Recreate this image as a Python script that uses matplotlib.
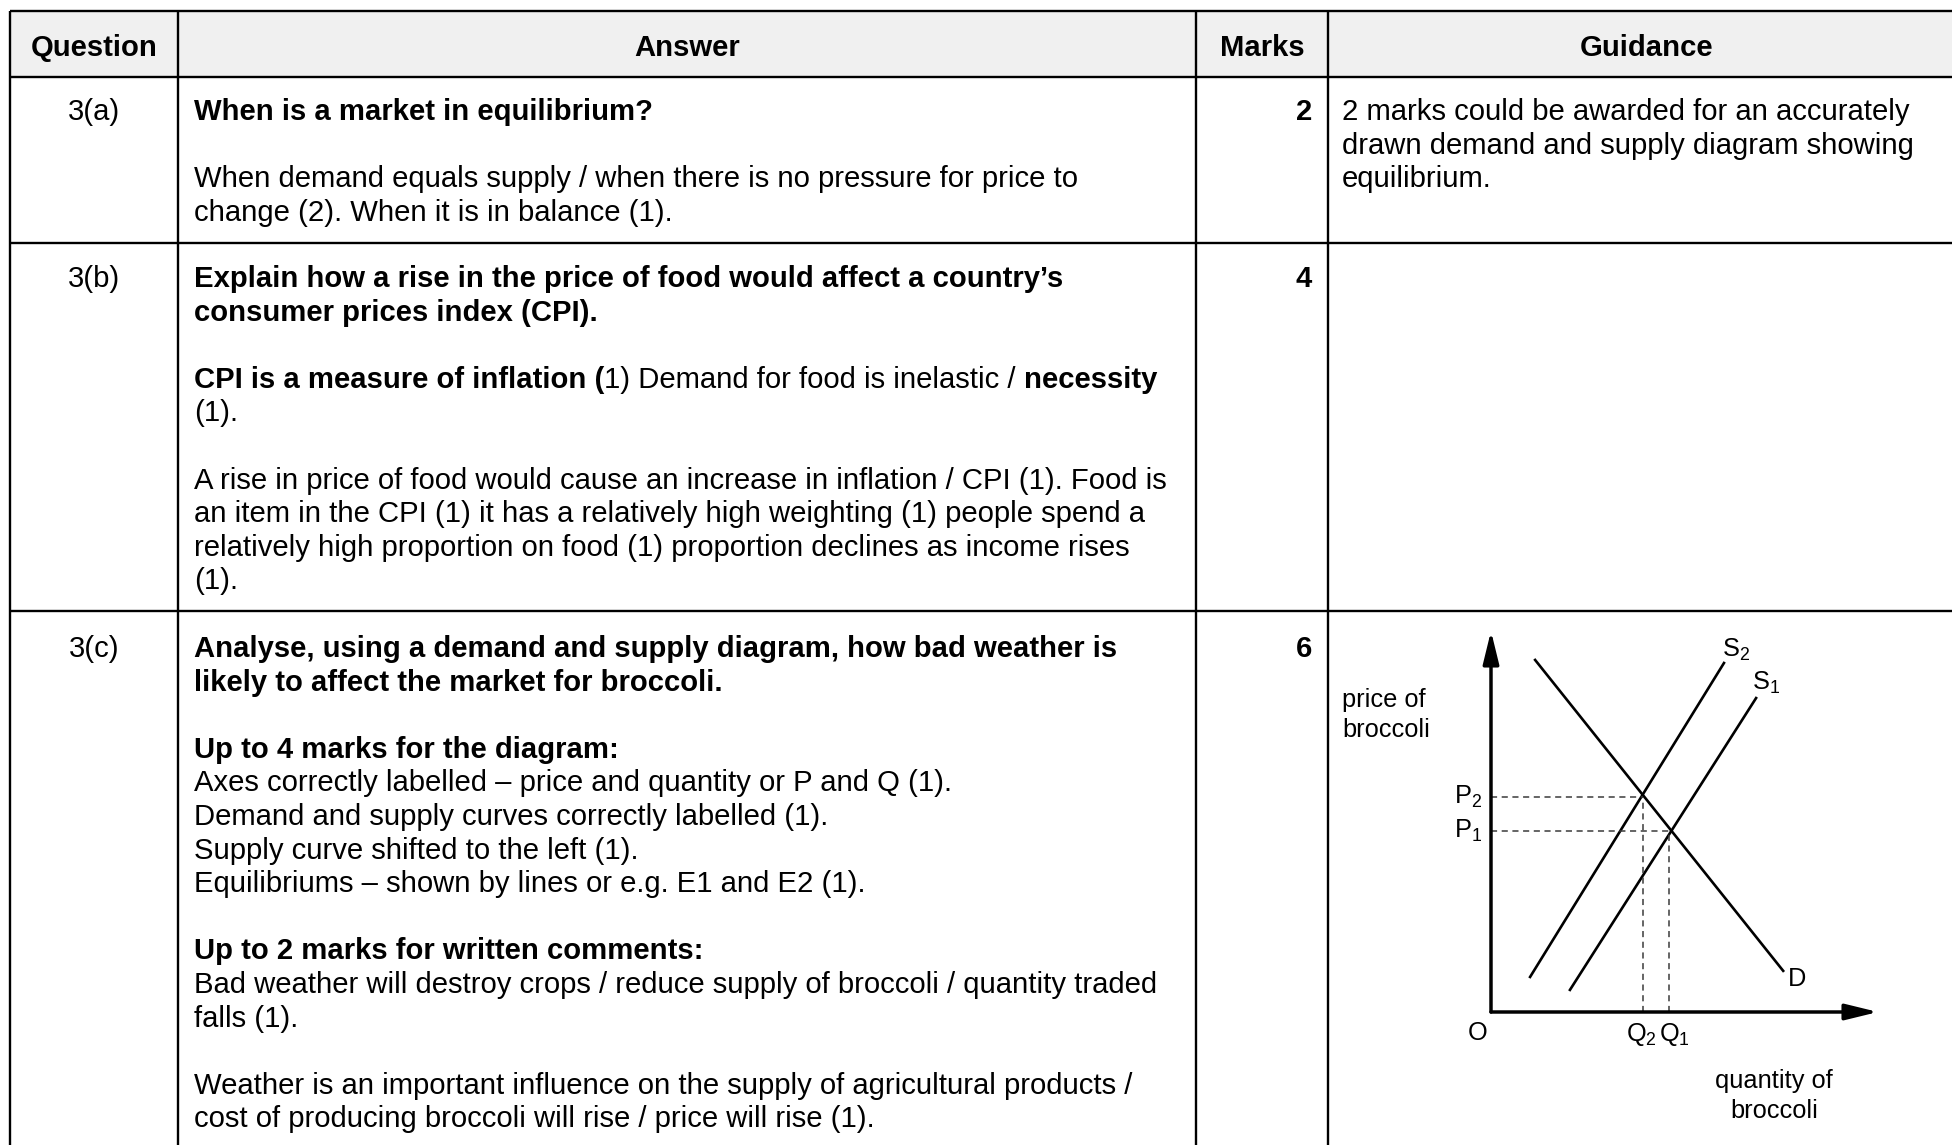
import matplotlib.pyplot as plt
import matplotlib as mpl

mpl.rcParams['font.family'] = ['Liberation Sans', 'DejaVu Sans']
mpl.rcParams['mathtext.fontset'] = 'custom'
mpl.rcParams['mathtext.rm'] = 'Liberation Sans'

headers = ["Question", "Answer", "Marks", "Guidance"]
questions = ["3(a)", "3(b)", "3(c)"]
marks = ["2", "4", "6"]

# each line is a list of (text, bold) pieces, None = blank line
answers = [
    [
        [("When is a market in equilibrium?", True)],
        None,
        [("When demand equals supply / when there is no pressure for price to", False)],
        [("change (2). When it is in balance (1).", False)],
    ],
    [
        [("Explain how a rise in the price of food would affect a country\u2019s", True)],
        [("consumer prices index (CPI).", True)],
        None,
        [("CPI is a measure of inflation (", True), ("1) Demand for food is inelastic / ", False),
         ("necessity", True)],
        [("(1).", False)],
        None,
        [("A rise in price of food would cause an increase in inflation / CPI (1). Food is", False)],
        [("an item in the CPI (1) it has a relatively high weighting (1) people spend a", False)],
        [("relatively high proportion on food (1) proportion declines as income rises", False)],
        [("(1).", False)],
    ],
    [
        [("Analyse, using a demand and supply diagram, how bad weather is", True)],
        [("likely to affect the market for broccoli.", True)],
        None,
        [("Up to 4 marks for the diagram:", True)],
        [("Axes correctly labelled \u2013 price and quantity or P and Q (1).", False)],
        [("Demand and supply curves correctly labelled (1).", False)],
        [("Supply curve shifted to the left (1).", False)],
        [("Equilibriums \u2013 shown by lines or e.g. E1 and E2 (1).", False)],
        None,
        [("Up to 2 marks for written comments:", True)],
        [("Bad weather will destroy crops / reduce supply of broccoli / quantity traded", False)],
        [("falls (1).", False)],
        None,
        [("Weather is an important influence on the supply of agricultural products /", False)],
        [("cost of producing broccoli will rise / price will rise (1).", False)],
    ],
]
guidance = [
    ["2 marks could be awarded for an accurately",
     "drawn demand and supply diagram showing",
     "equilibrium."],
    [],
    [],
]

# broccoli diagram (quantity, price)
demand_q = [1.14, 7.55]
demand_p = [9.24, 1.08]
supply1_q = [2.04, 6.85]
supply1_p = [0.58, 8.24]
supply2_q = [1.01, 6.02]
supply2_p = [0.92, 9.16]
eq_q = [4.60, 3.93]   # Q1, Q2
eq_p = [4.75, 5.64]   # P1, P2

W, H = 1952, 1145
col_x = [10, 178, 1196, 1328]
row_y = [11, 77, 243, 611]
first_base = [120, 287, 657]
line_h = 33.6
fs = 21.1

fig = plt.figure(figsize=(W / 100, H / 100), dpi=100)
ax = fig.add_axes([0, 0, 1, 1])
ax.set_xlim(0, W)
ax.set_ylim(H, 0)
ax.axis('off')
renderer = fig.canvas.get_renderer()

ax.fill_between([col_x[0], W], row_y[0], row_y[1], color='#f0f0f0', lw=0)
for y in row_y:
    ax.plot([col_x[0], W], [y, y], color='black', lw=1.7, solid_capstyle='butt')
for x in col_x:
    ax.plot([x, x], [row_y[0], H], color='black', lw=1.7, solid_capstyle='butt')

head_x = [(col_x[0] + col_x[1]) / 2, (col_x[1] + col_x[2]) / 2,
          (col_x[2] + col_x[3]) / 2, (col_x[3] + 1966) / 2]
for hx, h in zip(head_x, headers):
    ax.text(hx, 55.5, h, fontsize=fs, fontweight='bold', ha='center', va='baseline')


def width_of(txt, bold):
    t = ax.text(0, 0, txt, fontsize=fs, fontweight='bold' if bold else 'normal')
    w = t.get_window_extent(renderer).width
    t.remove()
    return w


sp_w = {b: width_of("x x", b) - width_of("xx", b) for b in (True, False)}


def draw_line(x, y, pieces):
    for txt, bold in pieces:
        core = txt.rstrip(" ")
        t = ax.text(x, y, core, fontsize=fs, fontweight='bold' if bold else 'normal',
                    ha='left', va='baseline')
        x += t.get_window_extent(renderer).width
        x += sp_w[bold] * (len(txt) - len(core))


for i in range(3):
    y0 = first_base[i]
    ax.text(head_x[0], y0, questions[i], fontsize=fs, ha='center', va='baseline')
    ax.text(1312, y0, marks[i], fontsize=fs, fontweight='bold', ha='right', va='baseline')
    for k, line in enumerate(answers[i]):
        if line:
            draw_line(194, y0 + k * line_h, line)
    for k, g in enumerate(guidance[i]):
        ax.text(1342, y0 + k * line_h, g, fontsize=fs, ha='left', va='baseline')

# diagram
dx0, dx1, dy0, dy1 = 1491, 1878, 1012, 631
dax = fig.add_axes([dx0 / W, (H - dy0) / H, (dx1 - dx0) / W, (dy0 - dy1) / H])
dax.set_xlim(0, 10)
dax.set_ylim(0, 10)
dax.axis('off')

arrow = dict(arrowstyle='-|>,head_length=0.9,head_width=0.22', lw=2.5, color='black',
             shrinkA=0, shrinkB=0, mutation_scale=22)
dax.annotate('', xy=(0, 10), xytext=(0, 0), arrowprops=arrow, annotation_clip=False)
dax.annotate('', xy=(10, 0), xytext=(0, 0), arrowprops=arrow, annotation_clip=False)

dax.plot(demand_q, demand_p, color='black', lw=1.9, clip_on=False)
dax.plot(supply1_q, supply1_p, color='black', lw=1.9, clip_on=False)
dax.plot(supply2_q, supply2_p, color='black', lw=1.9, clip_on=False)
for q, p in zip(eq_q, eq_p):
    dax.plot([0, q], [p, p], color='#3a3a3a', lw=1.1, ls=(0, (4, 3)))
    dax.plot([q, q], [0, p], color='#3a3a3a', lw=1.1, ls=(0, (4, 3)))

ls = 18.3
dax.text(-3.85, 7.8, "price of\nbroccoli", fontsize=ls, ha='left', va='center',
         linespacing=1.3, clip_on=False)
dax.text(7.31, -2.2, "quantity of\nbroccoli", fontsize=ls, ha='center', va='center',
         linespacing=1.3, clip_on=False)
dax.text(-0.35, -0.55, "O", fontsize=ls, ha='center', va='center', clip_on=False)
dax.text(-0.22, eq_p[1], r"$\mathregular{P_2}$", fontsize=ls, ha='right', va='center', clip_on=False)
dax.text(-0.22, eq_p[0], r"$\mathregular{P_1}$", fontsize=ls, ha='right', va='center', clip_on=False)
dax.text(eq_q[1] - 0.05, -0.58, r"$\mathregular{Q_2}$", fontsize=ls, ha='center', va='center', clip_on=False)
dax.text(eq_q[0] + 0.15, -0.58, r"$\mathregular{Q_1}$", fontsize=ls, ha='center', va='center', clip_on=False)
dax.text(supply2_q[1] - 0.05, supply2_p[1] + 0.35, r"$\mathregular{S_2}$", fontsize=ls, ha='left', va='center', clip_on=False)
dax.text(supply1_q[1] - 0.1, supply1_p[1] + 0.4, r"$\mathregular{S_1}$", fontsize=ls, ha='left', va='center', clip_on=False)
dax.text(demand_q[1] + 0.12, demand_p[1] - 0.22, "D", fontsize=ls, ha='left', va='center', clip_on=False)

fig.savefig("out.png", dpi=100)
